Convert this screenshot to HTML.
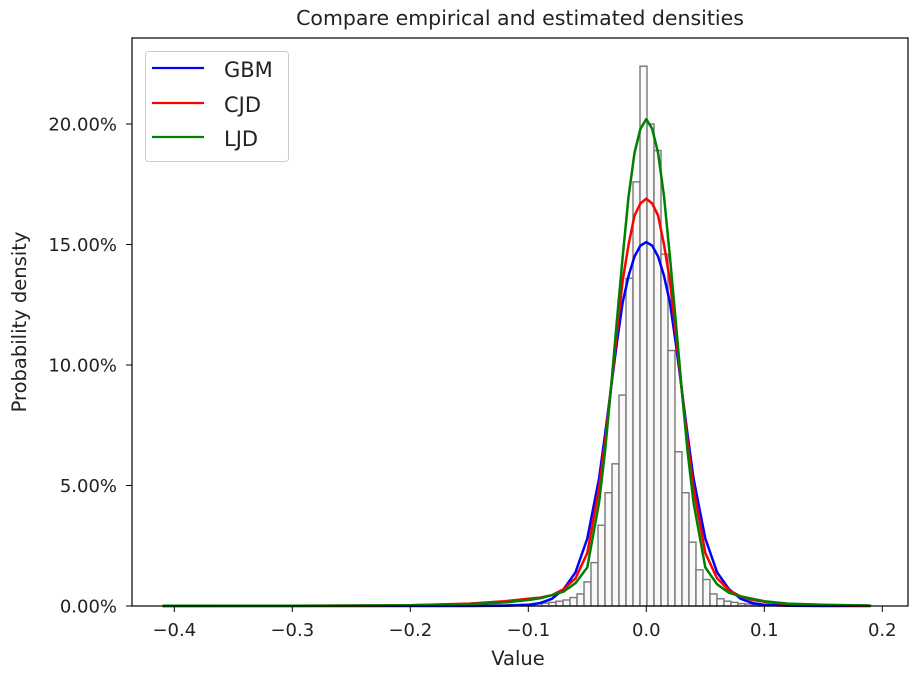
<!DOCTYPE html>
<html><head><meta charset="utf-8"><style>
body{margin:0;background:#fff;}
svg{display:block;font-family:"DejaVu Sans","Liberation Sans",sans-serif;}
</style></head><body>
<svg id="chart" width="915" height="675" viewBox="0 0 915 675">
<rect x="0" y="0" width="915" height="675" fill="#fff"/>
<text x="520" y="25" font-size="20.5" text-anchor="middle" fill="#222">Compare empirical and estimated densities</text>
<g id="bars"></g>
<g id="lines"></g>
<rect x="132" y="38" width="776" height="568" fill="none" stroke="#000" stroke-width="1.2"/>
<g id="xticks"></g>
<g id="yticks"></g>
<text x="518" y="665" font-size="19.5" text-anchor="middle" fill="#222">Value</text>
<text x="0" y="0" font-size="19.5" text-anchor="middle" fill="#222" transform="translate(26,322) rotate(-90)">Probability density</text>
<g>
<rect x="145.5" y="51.5" width="143" height="110" rx="3" fill="#fff" fill-opacity="0.8" stroke="#ccc"/>
<line x1="152" y1="68" x2="204" y2="68" stroke="#0000ff" stroke-width="2.2"/>
<text x="224" y="77" font-size="21" fill="#222">GBM</text>
<line x1="152" y1="103" x2="204" y2="103" stroke="#ff0000" stroke-width="2.2"/>
<text x="224" y="112" font-size="21" fill="#222">CJD</text>
<line x1="152" y1="137" x2="204" y2="137" stroke="#008000" stroke-width="2.2"/>
<text x="224" y="146" font-size="21" fill="#222">LJD</text>
</g>
</svg>
<script>
const binStart = -0.40858;
const binWidth = 0.00593;
const binHeights = [
0.02,0.02,0.02,0.02,0.02,0.02,0.02,0.02,0.02,0.02,
0.02,0.02,0.02,0.02,0.02,0.02,0.02,0.02,0.02,0.02,
0.02,0.02,0.02,0.02,0.02,0.02,0.02,0.02,0.02,0.02,
0.02,0.02,0.02,0.02,0.02,0.02,0.02,0.02,0.02,0.02,
0.03,0.03,0.03,0.03,0.03,0.04,0.04,0.05,0.05,0.06,
0.06,0.07,0.08,0.1,0.12,0.15,0.2,0.25,0.35,0.5,
1.0,1.8,3.35,4.7,5.9,8.75,13.6,17.6,22.4,20.0,
18.9,14.6,10.6,6.4,4.7,2.65,1.5,1.1,0.5,0.3,
0.2,0.15,0.1,0.08,0.06,0.05,0.05,0.04,0.04,0.03,
0.03,0.03,0.02,0.02,0.02,0.02,0.02,0.02,0.02,0.02,0.02
];
const curveX = [-0.41,-0.3,-0.2,-0.15,-0.12,-0.1,-0.09,-0.08,-0.07,-0.06,-0.05,-0.04,-0.035,-0.03,-0.025,-0.02,-0.015,-0.01,-0.005,0,0.005,0.01,0.015,0.02,0.025,0.03,0.035,0.04,0.05,0.06,0.07,0.08,0.09,0.1,0.12,0.15,0.19];
const gbmY = [0,0,0,0,0.01,0.05,0.12,0.3,0.7,1.4,2.8,5.3,7.1,9.0,10.9,12.6,13.7,14.5,14.95,15.1,14.95,14.5,13.7,12.6,10.9,9.0,7.1,5.3,2.8,1.4,0.7,0.3,0.12,0.05,0.01,0,0];
const cjdY = [0,0.005,0.03,0.1,0.2,0.3,0.35,0.45,0.7,1.15,2.2,4.9,6.8,9.0,11.3,13.5,15.0,16.2,16.7,16.9,16.7,16.2,15.0,13.5,11.3,9.0,6.8,4.9,2.2,1.15,0.65,0.4,0.25,0.18,0.08,0.03,0.01];
const ljdY = [0.01,0.01,0.03,0.08,0.15,0.25,0.32,0.45,0.6,0.95,1.6,4.3,6.4,9.0,11.8,14.5,17.0,18.8,19.8,20.2,19.8,18.8,17.0,14.5,11.8,9.0,6.4,4.3,1.6,0.9,0.55,0.4,0.3,0.2,0.1,0.05,0.02];
const xTicks = [-0.4,-0.3,-0.2,-0.1,0.0,0.1,0.2];
const xTickLabels = ["\u22120.4","\u22120.3","\u22120.2","\u22120.1","0.0","0.1","0.2"];
const yTicks = [0,5,10,15,20];
const yTickLabels = ["0.00%","5.00%","10.00%","15.00%","20.00%"];

const NS = "http://www.w3.org/2000/svg";
function xs(v){ return 646.3 + v*1180; }
function ys(v){ return 606 - v*24.1; }

const bars = document.getElementById('bars');
binHeights.forEach((h,i)=>{
  const r = document.createElementNS(NS,'rect');
  const x0 = xs(binStart + i*binWidth), x1 = xs(binStart + (i+1)*binWidth);
  r.setAttribute('x', x0); r.setAttribute('width', x1-x0);
  r.setAttribute('y', ys(h)); r.setAttribute('height', ys(0)-ys(h));
  r.setAttribute('fill','#fbf8f8'); r.setAttribute('stroke','#777'); r.setAttribute('stroke-width','1.4');
  
  
  bars.appendChild(r);
});

const lines = document.getElementById('lines');
[[gbmY,'#0000ff','gbm-curve'],[cjdY,'#ff0000','cjd-curve'],[ljdY,'#008000','ljd-curve']].forEach(([arr,col,name])=>{
  const p = document.createElementNS(NS,'polyline');
  p.setAttribute('points', arr.map((v,i)=>xs(curveX[i]).toFixed(1)+','+ys(v).toFixed(1)).join(' '));
  p.setAttribute('fill','none'); p.setAttribute('stroke',col); p.setAttribute('stroke-width','2.5');
  p.setAttribute('stroke-linejoin','round');
  
  
  lines.appendChild(p);
});

const xg = document.getElementById('xticks');
xTicks.forEach((t,i)=>{
  const l = document.createElementNS(NS,'line');
  l.setAttribute('x1',xs(t)); l.setAttribute('x2',xs(t)); l.setAttribute('y1',606); l.setAttribute('y2',612);
  l.setAttribute('stroke','#000');
  
  
  xg.appendChild(l);
  const tx = document.createElementNS(NS,'text');
  tx.setAttribute('x',xs(t)); tx.setAttribute('y',636); tx.setAttribute('font-size','18');
  tx.setAttribute('text-anchor','middle'); tx.setAttribute('fill','#222');
  tx.textContent = xTickLabels[i];
  
  
  xg.appendChild(tx);
});
const yg = document.getElementById('yticks');
yTicks.forEach((t,i)=>{
  const l = document.createElementNS(NS,'line');
  l.setAttribute('x1',126); l.setAttribute('x2',132); l.setAttribute('y1',ys(t)); l.setAttribute('y2',ys(t));
  l.setAttribute('stroke','#000');
  
  
  yg.appendChild(l);
  const tx = document.createElementNS(NS,'text');
  tx.setAttribute('x',117); tx.setAttribute('y',ys(t)+6.5); tx.setAttribute('font-size','18');
  tx.setAttribute('text-anchor','end'); tx.setAttribute('fill','#222');
  tx.textContent = yTickLabels[i];
  
  
  yg.appendChild(tx);
});
</script>
</body></html>
